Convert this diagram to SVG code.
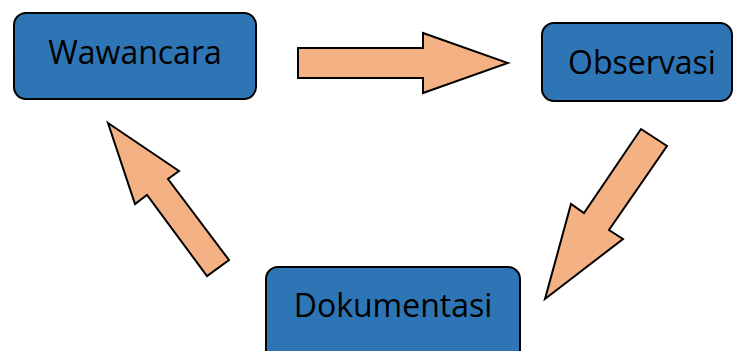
<svg xmlns="http://www.w3.org/2000/svg" width="734" height="351" viewBox="0 0 734 351">
<style>
.box{fill:#2E75B6;stroke:#000;stroke-width:2}
.lbl{font-family:"Open Sans","Noto Sans","Liberation Sans",sans-serif;font-size:32px;fill:#000;text-anchor:middle}
.arr{fill:#F4B183;stroke:#000;stroke-width:2;stroke-linejoin:miter}
</style>
<rect width="734" height="351" fill="#fff"/>
<g id="wawancara">
<rect class="box" x="14" y="13" width="242" height="86" rx="12"/>
<text class="lbl" x="135" y="64">Wawancara</text>
</g>
<g id="observasi">
<rect class="box" x="542" y="23" width="190" height="78" rx="12"/>
<text class="lbl" x="642" y="74">Observasi</text>
</g>
<g id="dokumentasi">
<rect class="box" x="266" y="267" width="254" height="100" rx="12"/>
<text class="lbl" x="393" y="317">Dokumentasi</text>
</g>
<g id="connectors">
<polygon class="arr" points="298,48 423,48 423,33 508,63 423,93 423,78 298,78"/>
<polygon class="arr" points="641,129 667,146 609,230 623,239 545,299 571,204 584,213"/>
<polygon class="arr" points="108,123 179,171 168,179 229,260 207,276 147,195 135,204"/>
</g>
</svg>
